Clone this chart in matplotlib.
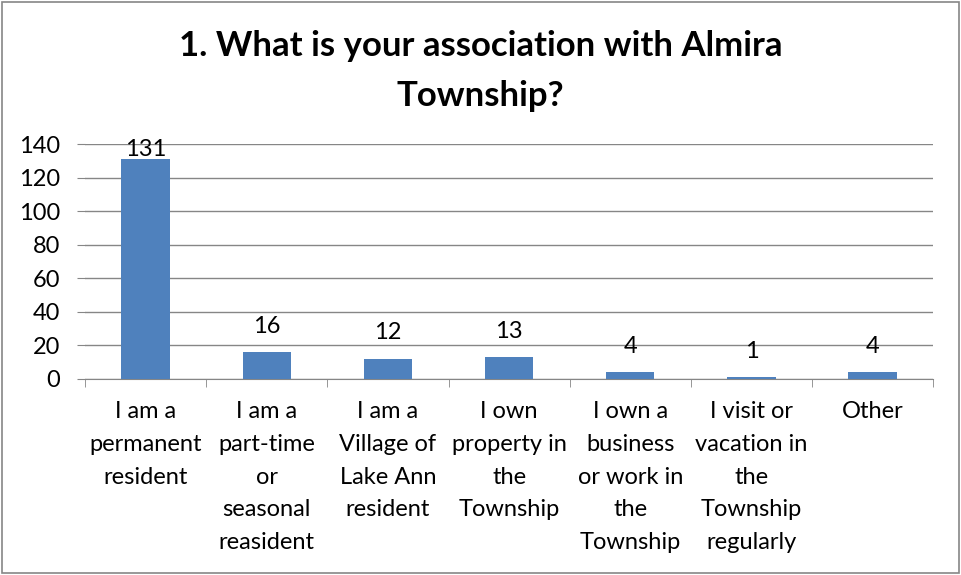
import matplotlib.pyplot as plt
from matplotlib.patches import Rectangle

categories = ["I am a\npermanent\nresident",
              "I am a\npart-time\nor\nseasonal\nreasident",
              "I am a\nVillage of\nLake Ann\nresident",
              "I own\nproperty in\nthe\nTownship",
              "I own a\nbusiness\nor work in\nthe\nTownship",
              "I visit or\nvacation in\nthe\nTownship\nregularly",
              "Other"]
counts = [131, 16, 12, 13, 4, 1, 4]
yticks = [0, 20, 40, 60, 80, 100, 120, 140]

plt.rcParams['font.family'] = ['Lato', 'DejaVu Sans']

fig = plt.figure(figsize=(9.61, 5.75), dpi=100)
ax = fig.add_axes([0.0885, 0.341, 0.8825, 0.4085])

x = list(range(len(categories)))
ax.bar(x, counts, width=0.4, color='#4F81BD', zorder=3)
# labels sit above the bar, pushed back inside the plot area like Excel does
for xi, v in zip(x, counts):
    ax.text(xi, min(v + 15.5, 136.5), str(v), ha='center', va='center',
            fontsize=17, zorder=4)

ax.set_xlim(-0.5, len(categories) - 0.5)
ax.set_ylim(0, 140)
ax.set_yticks(yticks)
ax.tick_params(axis='y', labelsize=17, length=6, color='#868686', pad=12)
ax.yaxis.grid(True, color='#868686', linewidth=1)
ax.set_axisbelow(True)

ax.set_xticks(x)
ax.set_xticklabels(categories, fontsize=17, linespacing=1.69, va='top')
ax.tick_params(axis='x', length=0, pad=16)
# tick marks between categories
ax.set_xticks([i - 0.5 for i in range(len(categories) + 1)], minor=True)
ax.tick_params(axis='x', which='minor', length=6, color='#868686')

for s in ['top', 'right', 'left']:
    ax.spines[s].set_visible(False)
ax.spines['bottom'].set_color('#868686')

fig.text(0.5, 0.948, "1. What is your association with Almira\nTownship?",
         ha='center', va='top', fontsize=25, fontweight='bold', linespacing=1.68)

fig.patches.append(Rectangle((0.002, 0.003), 0.996, 0.994, transform=fig.transFigure,
                             fill=False, edgecolor='#868686', linewidth=1.2))

fig.savefig('out.png', dpi=100)
